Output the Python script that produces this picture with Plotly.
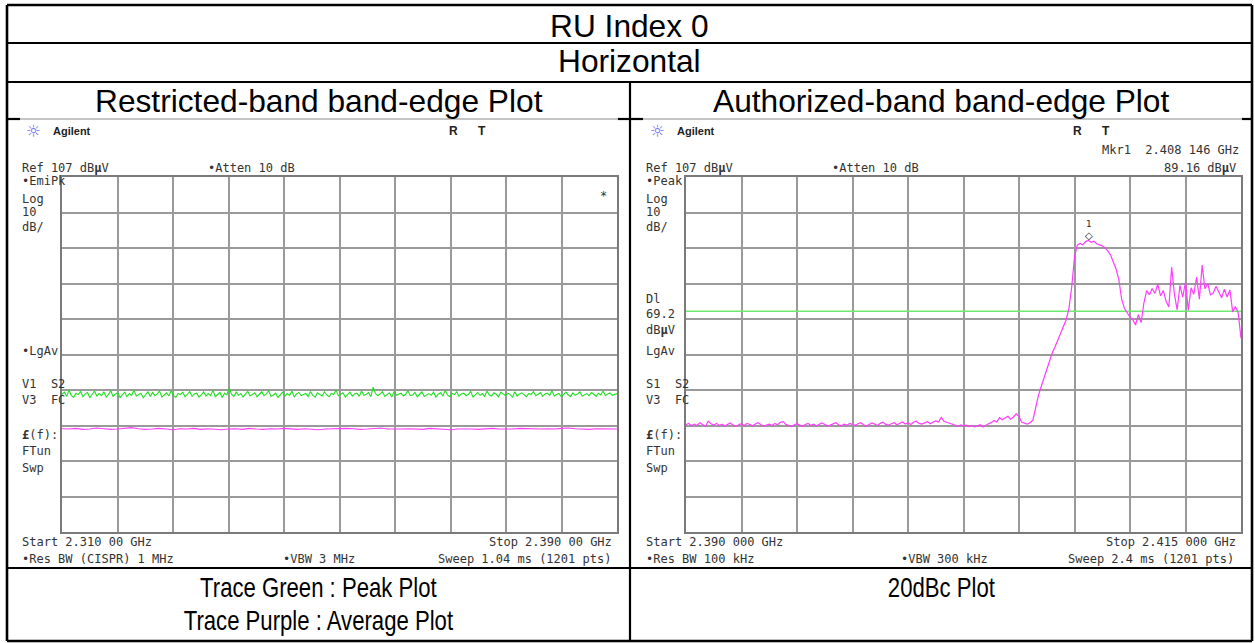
import plotly.graph_objects as go
import numpy as np

W, H = 1255, 643

# ---------------- data ----------------
title_rows = ["RU Index 0", "Horizontal"]
col_titles = ["Restricted-band band-edge Plot", "Authorized-band band-edge Plot"]
captions_left = ["Trace Green : Peak Plot", "Trace Purple : Average Plot"]
caption_right = "20dBc Plot"

ref_level = 107
db_per_div = 10

left_start, left_stop = 2.310, 2.390      # GHz
right_start, right_stop = 2.390, 2.415    # GHz

left_peak = [45.8,46.4,45.2,46.9,45.5,44.9,46.1,45.7,46.6,45.1,45.9,46.3,44.8,45.6,46.7,45.3,46.0,45.4,46.5,45.0,
             45.7,46.8,45.2,45.9,46.2,44.9,45.6,46.4,45.1,46.0,45.5,46.9,45.3,45.8,46.1,44.8,45.7,46.5,45.2,46.3,
             45.4,45.9,46.7,45.0,45.6,46.2,45.3,46.8,45.5,44.9,46.0,45.7,46.4,45.1,45.8,46.6,45.2,45.9,46.1,45.0,
             45.6,46.5,45.3,46.0,45.4,46.9,45.1,45.7,46.3,44.9,46.1,45.6,47.5,45.8,45.2,46.4,45.5,46.0,45.0,45.9,
             46.6,45.3,45.8,46.2,45.1,45.7,46.5,45.4,45.9,46.8,45.2,45.6,46.1,44.9,45.8,46.4,45.3,46.0,45.5,46.7,
             45.1,45.9,46.3,45.4,45.7,46.0,45.2,46.6,45.5,45.0,46.2,45.8,45.3,46.5,45.6,45.1,46.0,45.7,46.9,45.4,
             45.8,46.2,45.0,45.6,46.4,45.3,45.9,46.1,45.2,46.7,45.5,45.8,46.3,45.1,47.8,46.0,45.4,45.9,46.5,45.2,
             45.7,46.2,45.0,46.6,45.5,45.9,46.1,45.3,45.8,46.8,45.4,45.6,46.3,45.1,45.9,46.5,45.2,45.7,46.0,45.5,
             46.4,45.0,45.8,46.2,45.3,46.9,45.6,45.1,46.0,45.7,46.5,45.2,45.9,46.1,45.4,45.8,46.6,45.0,45.7,46.3,
             45.5,46.0,45.2,46.7,45.6,45.3,46.2,45.8,45.1,46.4,45.9,45.4,46.1,45.7,45.0,46.5,45.3,45.9,46.2,45.6,
             45.1,46.0,45.7,46.6,45.4,45.8,46.3,45.2,45.9,46.1,45.5,46.8,45.3,45.7,46.0,45.1,45.8,46.4,45.6,45.2,
             46.2,45.5,45.9,46.5,45.3,45.7,46.0,45.4,46.3,45.8,45.2,46.1,45.6,46.7,45.4,45.9,46.2,45.5,45.8,46.0]

left_avg = [36.1,36.0,36.2,35.9,36.0,36.3,36.1,35.9,36.0,36.2,
            36.4,36.1,35.9,36.0,36.2,36.0,35.8,36.1,36.0,36.2,
            35.9,36.1,36.0,35.8,36.0,36.1,35.9,36.2,36.0,35.9,
            36.1,36.0,36.2,36.0,35.9,36.1,36.0,35.8,36.0,36.1,
            36.0,36.2,36.1,35.9,36.0,36.1,36.3,36.0,35.9,36.0,
            36.1,36.0,35.9,36.2,36.1,36.0,35.8,36.0,36.1,36.0,
            35.9,36.1,36.2,36.0,35.9,36.0,36.2,36.1,35.9,36.0,
            36.1,36.0,36.2,36.3,36.1,36.0,35.9,36.1,36.0,35.9,36.0]

right_trace = [
    # noise floor
    37.2,37.6,36.9,37.4,37.0,37.8,37.3,36.8,38.2,37.5,
    37.1,37.6,37.0,37.4,36.9,37.3,37.7,37.1,36.8,37.2,
    37.5,37.0,37.6,37.3,36.9,37.4,37.8,37.2,36.8,37.1,
    37.4,37.0,37.6,37.2,37.9,38.1,37.3,37.0,36.7,37.2,
    37.5,37.1,36.8,37.3,37.6,37.0,37.4,36.9,37.2,37.7,
    37.3,36.9,37.1,37.5,37.8,37.2,36.9,37.4,37.1,37.6,
    37.3,37.0,37.5,37.8,37.2,36.9,37.3,37.7,37.4,37.0,
    37.6,37.9,37.3,37.1,37.5,37.8,37.2,37.6,38.0,37.4,
    37.7,37.3,37.9,38.2,37.6,37.4,37.8,38.1,37.5,37.9,
    38.3,38.0,39.3,38.2,37.9,37.6,37.3,37.0,36.8,37.2,
    36.9,37.1,36.7,37.0,36.6,36.9,37.2,36.6,37.1,37.5,
    37.8,38.4,38.0,39.2,38.6,39.0,39.6,38.8,39.4,40.3,
    39.5,37.9,37.6,37.4,37.8,
    # rising edge
    38.5,42.0,45.5,48.0,50.5,53.0,55.5,57.5,59.2,61.0,
    62.8,64.6,66.8,70.0,76.0,84.5,87.8,
    # in-band plateau
    88.3,87.9,88.8,89.16,88.6,88.9,88.2,87.9,87.6,
    # falling edge
    87.0,86.2,85.0,83.2,81.0,78.0,72.5,70.0,68.8,67.5,
    66.8,65.3,68.2,66.0,71.5,75.0,
    # upper region
    73.8,75.6,74.2,76.8,73.5,75.0,72.0,70.4,81.6,74.0,
    69.6,76.5,73.2,77.4,69.5,75.8,74.0,78.8,72.6,82.2,
    75.5,77.0,73.8,74.3,76.2,74.8,73.0,75.4,73.2,75.2,
    69.0,70.5,68.7,61.6]

display_line = 69.2
mkr_freq, mkr_level = 2.408146, 89.16

# ---------------- figure ----------------
fig = go.Figure()

lf = np.linspace(left_start, left_stop, len(left_peak))
la = np.linspace(left_start, left_stop, len(left_avg))
rf = np.linspace(right_start, right_stop, len(right_trace))

GREEN = "#1ee01e"
MAG = "#ff3cff"

fig.add_trace(go.Scatter(x=lf, y=left_peak, mode="lines", line=dict(color=GREEN, width=1.1), xaxis="x", yaxis="y", hoverinfo="skip"))
fig.add_trace(go.Scatter(x=la, y=left_avg, mode="lines", line=dict(color=MAG, width=1.1), xaxis="x", yaxis="y", hoverinfo="skip"))
fig.add_trace(go.Scatter(x=[right_start, right_stop], y=[display_line, display_line], mode="lines",
                         line=dict(color="#6ee86e", width=1.6), xaxis="x2", yaxis="y2", hoverinfo="skip"))
fig.add_trace(go.Scatter(x=rf, y=right_trace, mode="lines", line=dict(color=MAG, width=1.2), xaxis="x2", yaxis="y2", hoverinfo="skip"))


def px(x):
    return x / W


def py(y):
    return 1 - y / H


GRIDC = "#9a9a9a"
FRAMEC = "#7a7a7a"


def xax(dom, r, dt):
    return dict(domain=[px(dom[0]), px(dom[1])], range=r, dtick=dt, tick0=r[0], showticklabels=False, ticks="",
                showgrid=True, gridcolor=GRIDC, gridwidth=1.6, zeroline=False, showline=True, mirror=True,
                linecolor=FRAMEC, linewidth=2, fixedrange=True)


def yax(dom):
    return dict(domain=[py(dom[1]), py(dom[0])], range=[ref_level - 10 * db_per_div, ref_level], dtick=db_per_div,
                tick0=ref_level - 10 * db_per_div, showticklabels=False, ticks="", showgrid=True, gridcolor=GRIDC,
                gridwidth=1.6, zeroline=False, showline=True, mirror=True, linecolor=FRAMEC, linewidth=2,
                fixedrange=True)


GX0, GX1 = 62, 617
OFF = 624
GY0, GY1 = 177, 532

fig.update_layout(
    width=W, height=H, margin=dict(l=0, r=0, t=0, b=0),
    paper_bgcolor="white", plot_bgcolor="white", showlegend=False,
    xaxis=dict(xax((GX0, GX1), [left_start, left_stop], (left_stop - left_start) / 10), anchor="y"),
    yaxis=dict(yax((GY0, GY1)), anchor="x"),
    xaxis2=dict(xax((GX0 + OFF, GX1 + OFF), [right_start, right_stop], (right_stop - right_start) / 10), anchor="y2"),
    yaxis2=dict(yax((GY0, GY1)), anchor="x2"),
)

# ---------------- table lines ----------------
shapes = []


def hline(y, x0, x1, color="black", w=2.2):
    shapes.append(dict(type="line", xref="paper", yref="paper", x0=px(x0), x1=px(x1), y0=py(y), y1=py(y),
                       line=dict(color=color, width=w)))


def vline(x, y0, y1, color="black", w=2.2):
    shapes.append(dict(type="line", xref="paper", yref="paper", x0=px(x), x1=px(x), y0=py(y0), y1=py(y1),
                       line=dict(color=color, width=w)))


L, R, T, B = 7, 1252, 5, 641
hline(T, L, R, w=2.6)
hline(43, L, R)
hline(82, L, R)
hline(568, L, R)
hline(B, L, R, w=2.6)
vline(L, T, B, w=2.6)
vline(R, T, B, w=2.6)
vline(630, 82, B)
# row line under column titles, partly covered by the screenshots
hline(119, L, 20)
hline(119, 618, 643)
hline(119, 1242, R)
hline(119, 20, 618, color="#8a8a8a", w=1.2)
hline(119, 643, 1242, color="#8a8a8a", w=1.2)

fig.update_layout(shapes=shapes)

# ---------------- texts ----------------
ann = []
SANS = "Liberation Sans, Arial, sans-serif"
MONO = "DejaVu Sans Mono, monospace"


def text(t, x, y, size, anchor="left", family=MONO, color="#333333"):
    ann.append(dict(text=t, x=px(x), y=py(y), xref="paper", yref="paper", showarrow=False,
                    xanchor=anchor, yanchor="middle", font=dict(family=family, size=size, color=color),
                    borderpad=0))


text(title_rows[0], 629.5, 26, 31.7, "center", SANS, "black")
text(title_rows[1], 629.5, 61.5, 31.7, "center", SANS, "black")
text(col_titles[0], 318.5, 100.5, 31.7, "center", SANS, "black")
text(col_titles[1], 941, 100.5, 31.7, "center", SANS, "black")
text(captions_left[0], 318.5, 588, 27, "center", SANS, "black")
text(captions_left[1], 318.5, 621, 27, "center", SANS, "black")
text(caption_right, 941, 588, 27, "center", SANS, "black")

FS = 12
for o in (0, OFF):
    text("☼", 33 + o, 131, 17, "center", "DejaVu Sans", "#7070f0")
    text("<b>Agilent</b>", 52 + o, 131, 11, "left", SANS, "#222222")
    text("<b>R</b>", 453 + o, 131, 12, "center", SANS, "#222222")
    text("<b>T</b>", 482 + o, 131, 12, "center", SANS, "#222222")
    text("Ref 107 dB<b>µ</b>V", 21 + o, 168, FS)
    text("•Atten 10 dB", 207 + o, 168, FS)
    text("Log", 21 + o, 199, FS)
    text("10", 21 + o, 212, FS)
    text("dB/", 21 + o, 227, FS)
    text("V3  FC", 21 + o, 400, FS)
    text("<b>£</b>(f):", 21 + o, 435, FS)
    text("FTun", 21 + o, 451, FS)
    text("Swp", 21 + o, 468, FS)

# left-specific
text("•EmiPk", 21, 181, FS)
text("•LgAv", 21, 351, FS)
text("V1  S2", 21, 384, FS)
text("*", 603, 196, FS, "center")
text("Start 2.310 00 GHz", 21, 542, FS)
text("•Res BW (CISPR) 1 MHz", 21, 559, FS)
text("•VBW 3 MHz", 282, 559, FS)
text("Stop 2.390 00 GHz", 613, 542, FS, "right")
text("Sweep 1.04 ms (1201 pts)", 612, 559, FS, "right")

# right-specific
text("Mkr1  2.408 146 GHz", 1240, 150, FS, "right")
text("89.16 dB<b>µ</b>V", 1237, 168, FS, "right")
text("•Peak", 645, 181, FS)
text("Dl", 645, 299, FS)
text("69.2", 645, 314, FS)
text("dB<b>µ</b>V", 645, 330, FS)
text("LgAv", 645, 351, FS)
text("S1  S2", 645, 384, FS)
text("Start 2.390 000 GHz", 645, 542, FS)
text("•Res BW 100 kHz", 645, 559, FS)
text("•VBW 300 kHz", 900, 559, FS)
text("Stop 2.415 000 GHz", 1237, 542, FS, "right")
text("Sweep 2.4 ms (1201 pts)", 1235, 559, FS, "right")

# marker 1
ann.append(dict(text="◇", x=mkr_freq, y=mkr_level, xref="x2", yref="y2", showarrow=False, yshift=5,
                font=dict(family="DejaVu Sans", size=10, color="#222222")))
ann.append(dict(text="1", x=mkr_freq, y=mkr_level, xref="x2", yref="y2", showarrow=False, yshift=16,
                font=dict(family=MONO, size=9, color="#222222")))

fig.update_layout(annotations=ann)

# captions in the reference use a condensed face: squeeze them horizontally
post = """
document.body.style.margin='0';
document.body.style.overflow='hidden';
var caps = %s;
document.querySelectorAll('text.annotation-text').forEach(function(t){
  if (caps.indexOf(t.textContent) >= 0) {
    var b = t.getBBox();
    var cx = b.x + b.width / 2;
    t.setAttribute('transform', 'translate(' + cx + ',0) scale(0.82,1) translate(' + (-cx) + ',0)');
  }
});
""" % (str(captions_left + [caption_right]).replace("'", '"'))

fig.write_html("out.html", config={"displayModeBar": False}, post_script=post)
